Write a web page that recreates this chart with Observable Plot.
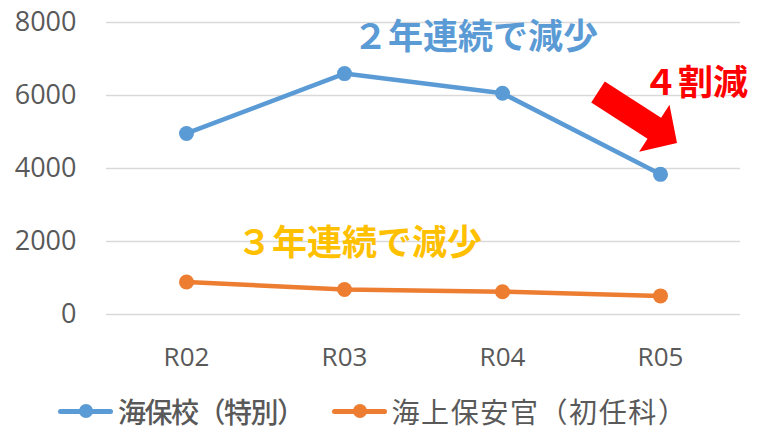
<!DOCTYPE html>
<html>
<head>
<meta charset="utf-8">
<script src="https://cdn.jsdelivr.net/npm/d3@7"></script>
<script src="https://cdn.jsdelivr.net/npm/@observablehq/plot@0.6"></script>
<style>
  html, body { margin: 0; padding: 0; background: #fff; }
  #wrap { width: 764px; height: 432px; position: relative; }
  #legend { position: absolute; left: 58px; top: 396px; height: 30px; display: flex; align-items: center; font-family: "Noto Sans CJK JP", sans-serif; color: #595959; font-size: 28px; line-height: 30px; }
  .item { display: flex; align-items: center; height: 30px; }
  .item span { display: inline-block; height: 30px; line-height: 30px; }
  .sw { width: 55px; height: 14px; position: relative; margin-right: 5px; }
  .sw .ln { position: absolute; left: 0; right: 0; top: 5px; height: 5px; border-radius: 3px; }
  .sw .dt { position: absolute; left: 21px; top: 0; width: 14px; height: 14px; border-radius: 50%; }
</style>
</head>
<body>
<div id="wrap">
  <div id="chart"></div>
  <div id="legend"></div>
</div>
<script>
const years = ["R02", "R03", "R04", "R05"];
const kaihoko = [4960, 6600, 6060, 3840];
const kaijo = [890, 685, 625, 510];
const seriesNames = ["海保校（特別）", "海上保安官（初任科）"];
const seriesColors = ["#5B9BD5", "#ED7D31"];
const yTicks = [0, 2000, 4000, 6000, 8000];
const notes = ["２年連続で減少", "３年連続で減少", "４割減"];

const rows = [];
years.forEach((yr, i) => {
  rows.push({year: yr, value: kaihoko[i], series: seriesNames[0]});
  rows.push({year: yr, value: kaijo[i], series: seriesNames[1]});
});

const plot = Plot.plot({
  width: 764,
  height: 390,
  marginLeft: 106,
  marginRight: 24,
  marginTop: 22,
  marginBottom: 76,
  style: {fontFamily: "'Open Sans', 'Noto Sans CJK JP', sans-serif", fontSize: "26px", color: "#595959", background: "#fff"},
  x: {type: "point", domain: years, padding: 0.5, label: null},
  y: {domain: [0, 8000], ticks: yTicks, label: null},
  color: {domain: seriesNames, range: seriesColors},
  marks: [
    Plot.ruleY(yTicks, {stroke: "#d9d9d9", strokeWidth: 1.5}),
    Plot.axisY({ticks: yTicks, tickSize: 0, tickPadding: 30, label: null, fontSize: 27, tickFormat: d => String(d)}),
    Plot.axisX({tickSize: 0, tickPadding: 33, label: null, fontSize: 26}),
    Plot.line(rows, {x: "year", y: "value", z: "series", stroke: "series", strokeWidth: 4.5}),
    Plot.dot(rows, {x: "year", y: "value", fill: "series", r: 7.5}),
    Plot.text([notes[0]], {x: () => "R04", y: () => 7590, dx: -27, text: d => d, fill: "#5B9BD5", fontSize: 35, fontWeight: "bold", fontFamily: "'Noto Sans CJK JP', sans-serif"}),
    Plot.text([notes[1]], {x: () => "R03", y: () => 1925, dx: 15, text: d => d, fill: "#FFC000", fontSize: 35, fontWeight: "bold", fontFamily: "'Noto Sans CJK JP', sans-serif"}),
    Plot.text([notes[2]], {x: () => "R05", y: () => 6330, dx: 35, text: d => d, fill: "#FF0000", fontSize: 35, fontWeight: "bold", fontFamily: "'Noto Sans CJK JP', sans-serif"})
  ]
});
document.getElementById("chart").appendChild(plot);

// block arrow annotation positioned with the chart's scales
const xs = plot.scale("x"), ys = plot.scale("y");
const tail = [xs.apply("R05") - 62, ys.apply(6084)];
const tip = [xs.apply("R05") + 17, ys.apply(4688)];
const dx = tip[0] - tail[0], dy = tip[1] - tail[1];
const L = Math.hypot(dx, dy), ux = dx / L, uy = dy / L, px = -uy, py = ux;
const shaftW = 25, headL = 27, headW = 56;
const bx = tip[0] - ux * headL, by = tip[1] - uy * headL;
const pts = [
  [tail[0] + px * shaftW / 2, tail[1] + py * shaftW / 2],
  [bx + px * shaftW / 2, by + py * shaftW / 2],
  [bx + px * headW / 2, by + py * headW / 2],
  tip,
  [bx - px * headW / 2, by - py * headW / 2],
  [bx - px * shaftW / 2, by - py * shaftW / 2],
  [tail[0] - px * shaftW / 2, tail[1] - py * shaftW / 2]
];
d3.select(plot).append("polygon").attr("points", pts.map(p => p.join(",")).join(" ")).attr("fill", "#FF0000");

// legend
const legend = document.getElementById("legend");
seriesNames.forEach((name, i) => {
  const item = document.createElement("div");
  item.className = "item";
  if (i > 0) item.style.marginLeft = "28px";
  item.innerHTML = `<div class="sw"><div class="ln" style="background:${seriesColors[i]}"></div><div class="dt" style="background:${seriesColors[i]}"></div></div>`;
  const t = document.createElement("span");
  t.textContent = name;
  if (i === 0) { t.style.fontWeight = "500"; t.style.letterSpacing = "-1.5px"; }
  else { t.style.letterSpacing = "1.6px"; }
  item.appendChild(t);
  legend.appendChild(item);
});
</script>
</body>
</html>
